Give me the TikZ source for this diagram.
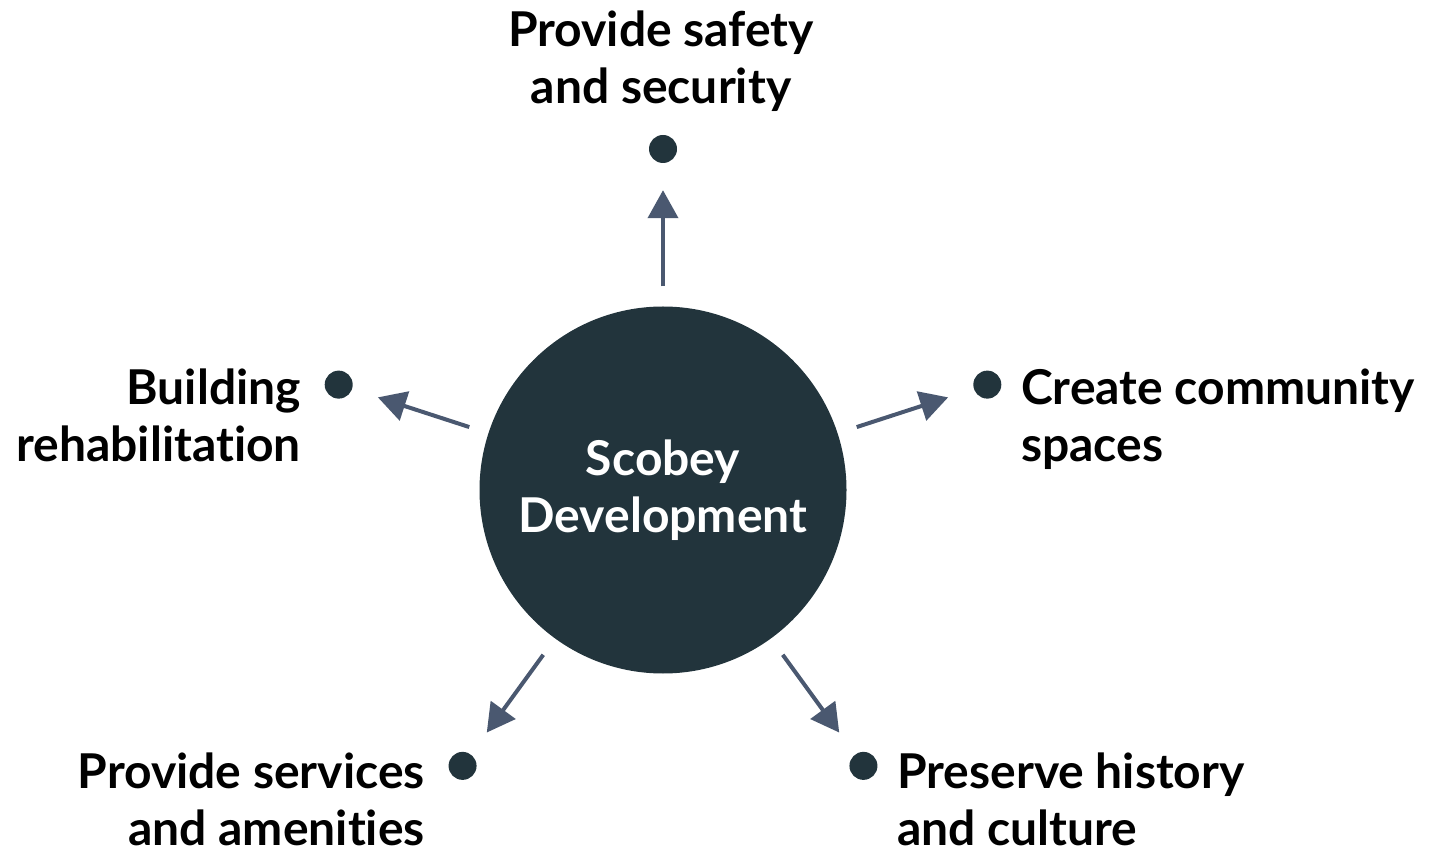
\documentclass[tikz,border=0pt]{standalone}
\usepackage{fontspec}
\setmainfont{Lato}[Ligatures=NoCommon]
\usetikzlibrary{calc,arrows.meta}
\definecolor{hub}{HTML}{22343C}
\definecolor{arrowc}{HTML}{4A5870}
\begin{document}
\begin{tikzpicture}[x=1pt,y=1pt,
  lbl/.style={inner sep=0pt,font=\fontsize{48}{57}\selectfont\bfseries,text=black},
  dot/.style={circle,fill=hub,minimum size=28pt,inner sep=0pt},
  spoke/.style={draw=arrowc,line width=4pt,-{Triangle[length=28pt,width=30pt]},
                shorten <=20pt,shorten >=27pt}]
\useasboundingbox (0,0) rectangle (1439,849);
% central hub
\node[circle,fill=hub,minimum size=367pt,inner sep=0pt,
      font=\fontsize{48}{57}\selectfont\bfseries,text=white,align=center]
  (hub) at (663,359) {Scobey\\Development};
% outer dots on a pentagon
\foreach \name/\ang in {top/90,left/162,bl/234,br/306,right/18}
  \node[dot] (\name) at ($(hub.center)+(\ang:341)$) {};
% spokes
\foreach \name in {top,left,bl,br,right}
  \draw[spoke] (hub) -- (\name);
% labels (base anchor sits on the last line)
\node[lbl,align=center,anchor=base] (ltop) at (661,745) {Provide safety\\and security};
\node[lbl,align=right,anchor=base east] (lleft) at (301,387) {Building\\rehabilitation};
\node[lbl,align=left,anchor=base west] (lright) at (1021,387) {Create community\\spaces};
\node[lbl,align=right,anchor=base east] (lbl) at (425,4) {Provide services\\and amenities};
\node[lbl,align=left,anchor=base west] (lbr) at (897,4) {Preserve history\\and culture};
\end{tikzpicture}
\end{document}
